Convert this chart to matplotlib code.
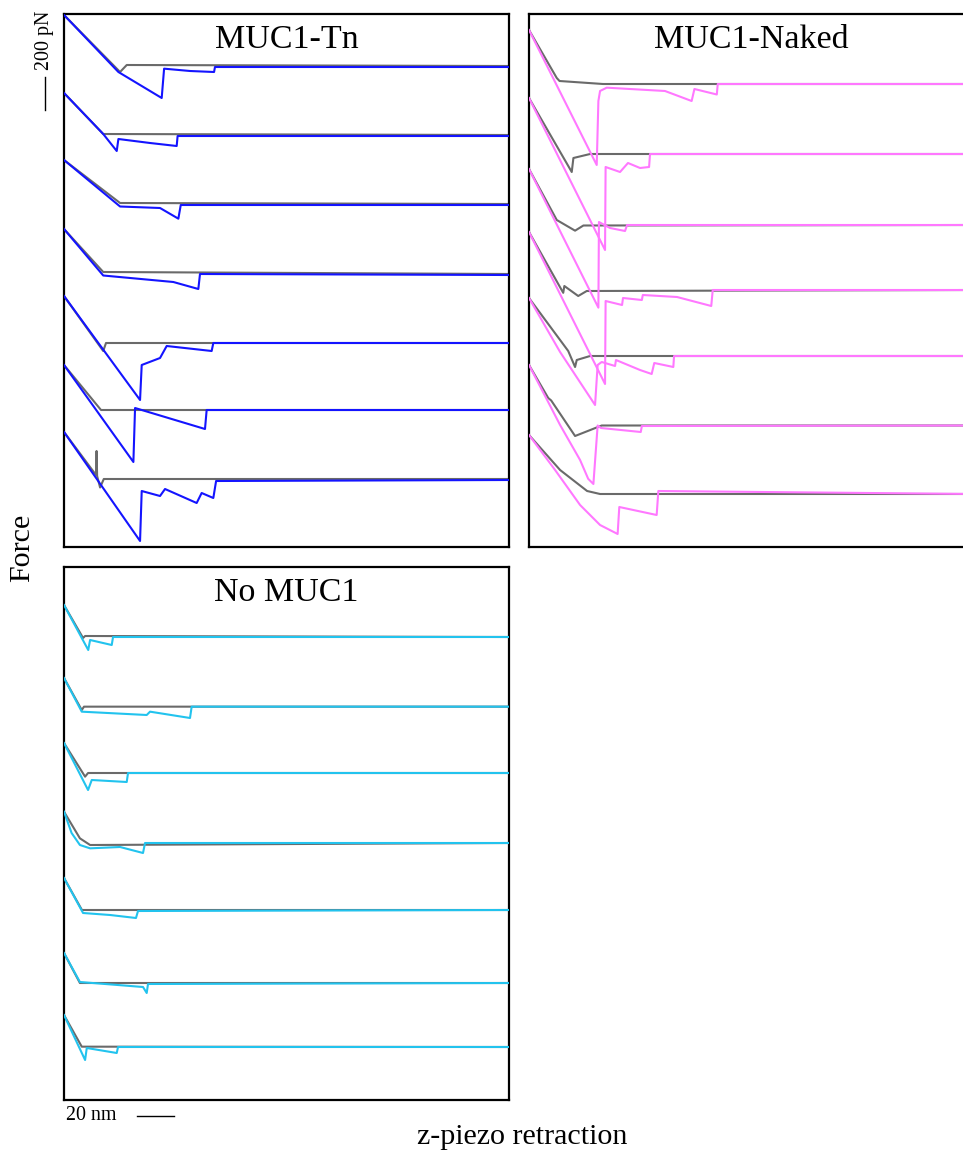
import matplotlib
matplotlib.use("Agg")
import matplotlib.pyplot as plt

plt.rcParams['font.family'] = ['Liberation Serif', 'DejaVu Serif']

# ---------------- data (x: nm, force: pN relative to each curve's baseline) ----------------
X_MAX = 240.5
Y_SPAN = 3198.0

# MUC1-Tn
tn_offset = [-318, -732, -1146, -1566, -1974, -2376, -2796]
tn_ret_x = [
    [0, 29.4, 52.8, 54.1, 68.1, 81.1, 81.6, 240.5],
    [0, 21.2, 28.5, 29.4, 46.5, 60.9, 61.4, 240.5],
    [0, 30.3, 51.9, 61.8, 63.1, 240.5],
    [0, 21.2, 59.1, 72.6, 73.5, 240.5],
    [0, 41.1, 42.0, 51.9, 55.5, 79.8, 80.7, 240.5],
    [0, 37.5, 38.4, 76.2, 77.1, 240.5],
    [0, 41.1, 42.0, 51.9, 54.6, 71.7, 74.4, 80.7, 82.2, 240.5],
]
tn_ret_f = [
    [312, -30, -186, -10, -24, -30, 0, 0],
    [258, 12, -90, -18, -42, -60, 0, 0],
    [270, -9, -18, -82, 0, 0],
    [276, -3, -42, -84, 6, 0],
    [282, -342, -132, -90, -18, -48, 0, 0],
    [270, -312, 12, -114, 0, 0],
    [288, -366, -66, -96, -54, -138, -78, -108, -6, 0],
]
tn_app_x = [
    [0, 30.3, 33.9, 240.5],
    [0, 21.2, 240.5],
    [0, 30.3, 240.5],
    [0, 21.2, 240.5],
    [0, 21.2, 22.7, 240.5],
    [0, 20.0, 240.5],
    [0, 17.3, 17.6, 17.9, 19.5, 21.5, 240.5],
]
tn_app_f = [
    [312, -30, 12, 6],
    [258, 12, 6],
    [270, 12, 6],
    [276, 18, 6],
    [282, -48, 0, 0],
    [270, 0, 0],
    [288, 30, 174, 24, -45, 6, 6],
]

# MUC1-Naked
nk_offset = [-420, -840, -1266, -1656, -2052, -2469, -2880]
nk_ret_x = [
    [0, 36.6, 37.5, 38.4, 42.0, 73.5, 87.9, 89.4, 101.5, 102.0, 240.5],
    [0, 41.1, 41.4, 49.2, 53.5, 60.0, 64.9, 65.4, 240.5],
    [0, 37.5, 37.8, 43.8, 51.9, 53.0, 240.5],
    [0, 41.1, 41.4, 50.3, 50.8, 61.0, 61.5, 80.0, 98.5, 99.3, 240.5],
    [0, 16.8, 35.7, 37.1, 39.3, 46.5, 47.0, 60.0, 66.3, 67.7, 78.0, 78.4, 240.5],
    [0, 16.8, 27.6, 32.0, 34.8, 37.1, 38.9, 60.4, 61.0, 240.5],
    [0, 14.1, 27.6, 38.4, 47.9, 48.8, 69.0, 69.9, 240.5],
]
nk_ret_f = [
    [324, -486, -102, -42, -22, -42, -102, -30, -63, 0, 0],
    [336, -576, -78, -108, -54, -84, -78, 0, 0],
    [336, -496, 18, -18, -36, 0, 0],
    [348, -564, -66, -90, -48, -60, -30, -42, -96, 0, 0],
    [348, 24, -294, -54, -36, -60, -24, -84, -108, -42, -66, 0, 0],
    [363, 3, -207, -320, -351, 0, -15, -39, -3, 0],
    [354, 144, -66, -186, -240, -78, -126, 18, 0],
]
nk_app_x = [
    [0, 15.0, 16.5, 40.0, 240.5],
    [0, 23.1, 24.0, 33.0, 240.5],
    [0, 15.0, 24.9, 29.4, 240.5],
    [0, 18.5, 19.1, 26.6, 31.2, 240.5],
    [0, 21.2, 24.9, 25.8, 33.0, 240.5],
    [0, 10.4, 12.0, 24.9, 39.3, 240.5],
    [0, 16.8, 31.4, 38.4, 240.5],
]
nk_app_f = [
    [324, 36, 18, 0, 0],
    [336, -108, -24, 0, 0],
    [336, 30, -34, -3, 0],
    [348, -17, 24, -36, -6, 0],
    [348, 30, -66, -24, 0, 0],
    [363, 165, 150, -63, 0, 0],
    [354, 144, 18, 0, 0],
]

# No MUC1
no_offset = [-420, -838, -1236, -1656, -2058, -2496, -2880]
no_ret_x = [
    [0, 13.1, 14.1, 25.8, 26.5, 240.5],
    [0, 9.6, 44.7, 46.5, 68.1, 69.0, 240.5],
    [0, 13.0, 15.0, 33.9, 34.6, 240.5],
    [0, 4.1, 8.6, 14.1, 30.3, 42.7, 43.8, 240.5],
    [0, 10.3, 24.9, 38.9, 40.0, 240.5],
    [0, 8.6, 42.7, 44.7, 45.4, 240.5],
    [0, 11.4, 12.3, 28.5, 29.2, 240.5],
]
no_ret_f = [
    [192, -78, -18, -48, 0, 0],
    [172, -30, -50, -30, -68, 0, 0],
    [180, -102, -42, -54, 0, 0],
    [188, 60, -12, -32, -24, -60, 0, 0],
    [192, -18, -30, -48, -6, 0],
    [180, 6, -24, -60, -6, 0],
    [192, -78, -6, -36, 0, 0],
]
no_app_x = [
    [0, 10.3, 11.4, 240.5],
    [0, 9.6, 10.8, 240.5],
    [0, 11.4, 13.0, 240.5],
    [0, 8.6, 14.1, 240.5],
    [0, 9.7, 240.5],
    [0, 8.6, 240.5],
    [0, 9.6, 240.5],
]
no_app_f = [
    [192, -6, 6, 0],
    [172, -20, 0, 0],
    [180, -22, 0, 0],
    [188, 28, -12, 0],
    [192, 0, 0],
    [180, 0, 0],
    [192, 2, 0],
]

titles = ["MUC1-Tn", "MUC1-Naked", "No MUC1"]
scale_nm = 20
scale_pN = 200

# ---------------- figure ----------------
W, H = 963, 1151
fig = plt.figure(figsize=(W / 100, H / 100), dpi=100)

def px_axes(x0, y0, w, h):
    return fig.add_axes([x0 / W, 1 - (y0 + h) / H, w / W, h / H])

ax1 = px_axes(64, 14, 445, 533)
ax2 = px_axes(529, 14, 445, 533)
ax3 = px_axes(64, 567, 445, 533)

GRAY = '#6a6a6a'
panels = [
    (ax1, tn_offset, tn_ret_x, tn_ret_f, tn_app_x, tn_app_f, '#1414ff', titles[0]),
    (ax2, nk_offset, nk_ret_x, nk_ret_f, nk_app_x, nk_app_f, '#ff78ff', titles[1]),
    (ax3, no_offset, no_ret_x, no_ret_f, no_app_x, no_app_f, '#22c3ee', titles[2]),
]

for ax, offs, rx, rf, apx, apf, col, title in panels:
    for i, off in enumerate(offs):
        ax.plot(apx[i], [v + off for v in apf[i]], color=GRAY, lw=1.5, zorder=2)
        ax.plot(rx[i], [v + off for v in rf[i]], color=col, lw=1.5, zorder=3)
    ax.set_xlim(0, X_MAX)
    ax.set_ylim(-Y_SPAN, 0)
    ax.set_xticks([])
    ax.set_yticks([])
    for s in ax.spines.values():
        s.set_linewidth(1.6)
        s.set_color('black')
    ax.text(0.5, 0.936, title, transform=ax.transAxes, ha='center', va='baseline',
            fontsize=24.5, color='black')

# scale bars
ax1.plot([-10.3, -10.3], [-378, -378 - scale_pN], color='black', lw=1.0, clip_on=False)
ax1.text(-10.3, -156, "%d pN" % scale_pN, rotation=90, ha='center', va='center',
         fontsize=14.4, clip_on=False)
ax3.plot([39.5, 39.5 + scale_nm], [-3294, -3294], color='black', lw=1.0, clip_on=False)
ax3.text(14.9, -3294, "%d nm" % scale_nm, ha='center', va='center', fontsize=14.4,
         clip_on=False)

fig.text(22 / W, 1 - 548 / H, "Force", rotation=90, ha='center', va='center', fontsize=21.6)
fig.text(522 / W, 1 - 1137 / H, "z-piezo retraction", ha='center', va='center', fontsize=21.6)

fig.savefig("out.png", dpi=100)
